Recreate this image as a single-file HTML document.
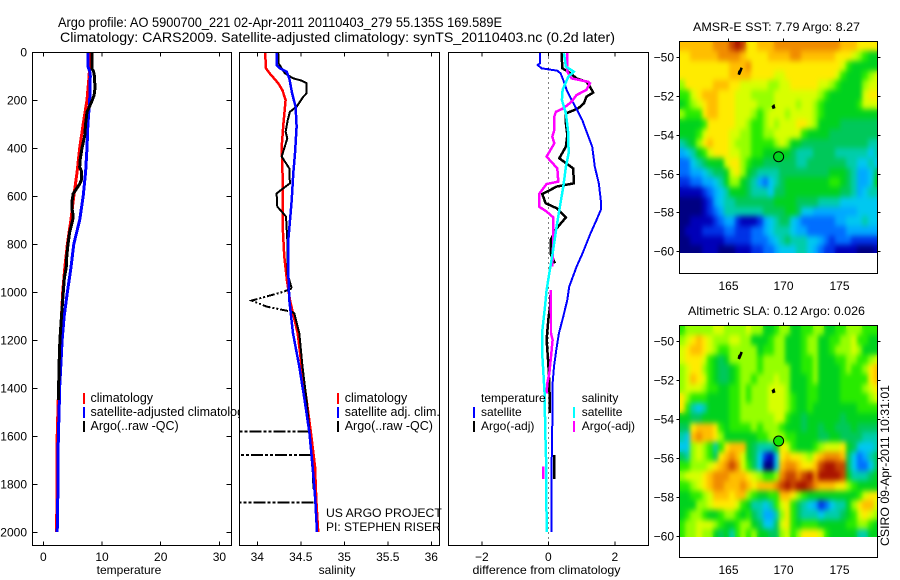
<!DOCTYPE html>
<html lang="en">
<head>
<meta charset="utf-8">
<title>Argo profile 5900700_221</title>
<style>
html,body{margin:0;padding:0;background:#fff;}
svg{display:block;}
text{font-family:"Liberation Sans",sans-serif;font-size:12px;fill:#000;}
.title{font-size:14px;}
</style>
</head>
<body>
<svg id="fig" xmlns="http://www.w3.org/2000/svg" width="900" height="580" viewBox="0 0 900 580">
  <rect x="0" y="0" width="900" height="580" fill="#fff"/>
  <text class="title" x="58" y="27" textLength="444" lengthAdjust="spacingAndGlyphs">Argo profile: AO 5900700_221 02-Apr-2011 20110403_279 55.135S 169.589E</text>
  <text class="title" x="60" y="42" textLength="555" lengthAdjust="spacingAndGlyphs">Climatology: CARS2009. Satellite-adjusted climatology: synTS_20110403.nc (0.2d later)</text>
  <clipPath id="clipSal"><rect x="239.5" y="52.5" width="200" height="493"/></clipPath>
  <clipPath id="clipTemp"><rect x="32.5" y="52.5" width="199" height="493"/></clipPath>
  <clipPath id="clipDiff"><rect x="448.5" y="52.5" width="200" height="493"/></clipPath>
  <clipPath id="clipHeatSst"><rect x="679.5" y="41.5" width="198" height="211.5"/></clipPath>
  <clipPath id="clipHeatSla"><rect x="679.5" y="325.5" width="198" height="211.5"/></clipPath>
  <filter id="heatBlur" x="-5%" y="-5%" width="110%" height="110%" color-interpolation-filters="sRGB">
    <feGaussianBlur stdDeviation="2.2 3" result="b"/>
    <feMerge><feMergeNode in="SourceGraphic"/><feMergeNode in="b"/></feMerge>
  </filter>
  <g id="panelTemp"></g>
  <g id="panelSal"></g>
  <g id="panelDiff"></g>
  <g id="mapSst"></g>
  <g id="mapSla"></g>
  <text x="129" y="574" text-anchor="middle">temperature</text>
  <text x="337" y="574" text-anchor="middle">salinity</text>
  <text x="546.5" y="574" text-anchor="middle" textLength="148" lengthAdjust="spacingAndGlyphs">difference from climatology</text>
  <text x="776.5" y="31" text-anchor="middle" textLength="167" lengthAdjust="spacingAndGlyphs">AMSR-E SST: 7.79 Argo: 8.27</text>
  <text x="776.5" y="315" text-anchor="middle" textLength="177" lengthAdjust="spacingAndGlyphs">Altimetric SLA: 0.12 Argo: 0.026</text>
  <text transform="translate(889,546) rotate(-90)" textLength="161" lengthAdjust="spacingAndGlyphs">CSIRO 09-Apr-2011 10:31:01</text>
</svg>
<script>
// ---------- axis tick labels ----------
var depthTicks = [0,200,400,600,800,1000,1200,1400,1600,1800,2000];
var tempTicks = [0,10,20,30];
var salTicks = [34,34.5,35,35.5,36];
var diffTicks = [-2,0,2];
var lonTicks = [165,170,175];
var latTicks = [-50,-52,-54,-56,-58,-60];

// ---------- temperature panel ----------
var tempClimDepth = [0,100,200,300,400,500,600,700,800,900,1000,1200,1400,1600,1800,2000];
var tempClim = [8.0,7.8,7.45,6.8,6.2,5.75,5.2,4.7,4.1,3.67,3.3,2.9,2.6,2.37,2.37,2.25];
var tempSatDepth = [0,60,80,100,200,300,400,500,600,700,800,900,1000,1100,1200,1300,1400,1500,1600,1800,2000];
var tempSat = [7.6,7.6,7.9,8.0,7.9,7.6,7.45,7.2,6.8,6.2,5.2,4.7,4.1,3.56,3.2,3.0,2.77,2.7,2.55,2.5,2.37];
var tempArgoDepth = [0,70,80,100,150,180,210,250,300,350,400,450,480,500,530,550,570,590,620,650,680,700,750,800,850,900,940,1000,1100,1200,1300,1400,1450];
var tempArgo = [8.3,8.3,8.55,8.7,8.8,8.65,8.2,7.45,7.2,7.06,6.6,6.27,6.2,6.55,6.55,6.2,5.65,5.1,4.9,4.86,5.1,5.0,4.5,4.2,4.0,3.9,3.6,3.4,3.1,2.82,2.7,2.6,2.6];

// ---------- salinity panel ----------
var salClimDepth = [0,68,90,130,160,200,300,395,505,575,714,853,950,1033,1172,1311,1450,1589,1727,1866,2000];
var salClim = [34.09,34.10,34.145,34.24,34.29,34.325,34.30,34.28,34.29,34.29,34.29,34.31,34.34,34.375,34.464,34.51,34.567,34.617,34.663,34.678,34.70];
var salSatDepth = [0,54,68,82,110,172,228,311,422,505,617,672,783,922,1033,1172,1311,1450,1589,1727,1866,2000];
var salSat = [34.222,34.222,34.26,34.337,34.368,34.40,34.44,34.452,34.433,34.414,34.395,34.383,34.356,34.356,34.368,34.41,34.483,34.544,34.60,34.636,34.667,34.686];
var salArgoDepth = [0,47,68,89,110,119,130,172,186,228,249,283,332,360,436,485,547,589,644,686,783,922,950,985,null,1082,1089,1172,1311,1450,1582,1679,1760,1820];
var salArgo = [34.24,34.245,34.28,34.318,34.414,34.51,34.567,34.567,34.53,34.452,34.375,34.35,34.325,34.345,34.28,34.368,34.375,34.222,34.23,34.33,34.345,34.345,34.368,34.395,null,34.395,34.425,34.483,34.52,34.567,34.6,34.62,34.64,34.645];
var salBadDepth = [985,999,1036,1061,1082];
var salBad = [34.395,34.30,33.935,34.107,34.395];
var salSpikeDepth = [1582,1679,1877];
var salSpikeFrom = [34.6,34.62,34.645];
var salSpikeTo = [33.0,33.0,33.0];

// ---------- difference panel ----------
var diffTSatDepth = [5,47,54,68,78,89,117,158,200,242,283,339,394,478,547,632,658,700,756,839,894,978,1033,1102,1172,1241,1311,1380,1450,1547,1727,2000];
var diffTSat = [-0.25,-0.25,-0.32,-0.2,0.27,0.37,0.45,0.55,0.7,0.87,1.02,1.17,1.32,1.4,1.52,1.59,1.58,1.45,1.27,1.03,0.85,0.63,0.57,0.45,0.32,0.24,0.17,0.13,0.13,0.12,0.1,0.09];
var diffSSatDepth = [5,61,82,103,158,200,256,339,422,478,561,644,728,839,922,992,1061,1172,1241,1311,1422,1589,1727,2000];
var diffSSat = [0.47,0.53,0.77,0.6,0.43,0.41,0.53,0.6,0.61,0.53,0.45,0.35,0.25,0.13,0.03,-0.05,-0.1,-0.19,-0.19,-0.16,-0.11,-0.09,-0.06,-0.05];
var diffSArgoDepth = [5,82,89,110,124,130,158,179,207,235,249,269,325,353,381,436,485,540,550,592,644,665,689,783,894,null,992,1089,1172,1200,1269,1339,1380,1422,null,1727,1779];
var diffSArgo = [0.57,0.57,0.6,0.7,1.2,1.25,1.15,0.85,0.7,0.45,0.23,0.18,0.18,0.12,0.18,-0.05,0.27,0.3,-0.05,-0.28,-0.28,-0.05,0.15,0.15,0.12,null,0.07,0.08,0.08,0.13,0.08,0.03,-0.03,-0.05,null,-0.15,-0.15];
var diffTArgoDepth = [5,68,82,110,124,144,169,186,214,235,256,297,346,394,443,485,547,561,592,630,651,689,735,783,840,880,null,992,1033,1061,1116,1200,1297,1380,1505,null,1680,1779];
var diffTArgo = [0.4,0.42,0.6,0.85,1.15,1.25,1.35,1.15,1.07,0.9,0.53,0.53,0.57,0.53,0.33,0.75,0.77,0.25,-0.18,-0.08,0.25,0.53,0.25,0.07,0.07,0.2,null,0.08,0.05,0.05,0,-0.05,0,0.03,0.05,null,0.17,0.17];
var zeroLineDiff = [0];

// ---------- satellite map grids (colour level per cell, 0 = coldest .. g = warmest) ----------
var sstRows = [
"dddddd eee fgf ccddd eeeeeeeeeeee ddd cccc",
"ccddd ddee eed ccccdd ddeedddddd cccb a988",
"ccccccccc ddde ccccccccccccccc cb 9 88888",
"ccccccccc dddd cccc bbcccccccc cb 9 888 9ab",
"a cccccd ddc cbbbbb aab bcccccbb a 9 8888 a bb",
"99 bc ddd cccb bbaaa ab bbb bbbb a 9 88888 8 bcc",
"89 ab cdd cccb bbbaa abbbb abb a 9 888888 9 bbb",
"a 999 cddc ccbbb a9 abbb abbb ba 9 8888888888",
"8888 9 cccc cbba 99 ababb bccb a 88887777777",
"888 9 b cccc bbaa9 9aa bbb bb9 8888777777777",
"6 78 a cdcc cbaa a999 9ab a 88 77777777777766",
"4 5 6 8 9 bcc cbba a9 9888 88 7666777766666656",
"33 5 6 78 88 bcca 9 887 777 776 6777 7777 66 55 65",
"33 44 56 77 8bc a 8 7666 67 777 7777 7888 76 44 57",
"22 33 44 56 8 aa 8 7 6 43 56 788 88888 899 87 6 44 58",
"11 11 23 45 68 887 6665 77 888 888 888 877 6 45 66",
"0000 12 45 6 67 777 777 8888 7777 6666 555 5555",
"00001 23 46 66 66667 777 88 755 44444 444 5555",
"00111 12 34 4 21 112 45 677 54 33333 344 555 655",
"011 122 223 322 233 45 66 65 443 333 333 444 444",
"001 111 112 222 233 34 56 76 665 543 233 322 222",
"000 011 100 011 122 33 45 55 665 432 211 110 001"
];
var slaRows = [
"9aaaaa bbaaaa baa889 aa8899 aa8899 aaa999",
"abcdcb aaabba a8889a a8889a a8899a ab9988",
"bcddcb a99aaa aa899a a8889a a889aa aba888",
"bcccb9 878aaa aa9aaa a88899 a88899 aa99ab",
"abcca9 87789a aa9aaa aa8899 a88889 a99acd",
"abdcb9 87789a a9aaab aa8889 a88889 9999cd",
"abbba9 98899a 9aaabb ba8889 988889 999abc",
"ca9998 88899a 9aaabb ba9889 988889 9999ab",
"c96568 88899a aaaabb ba9889 888888 889999",
"887788 88899a aaaaab b98878 888887 888888",
"77cddd c98999 9a9aaa 988878 878877 787777",
"65dedd ca8888 8899aa a99888 877887 777666",
"55aba9 69cddd 876668 cb9888 9abbbc 875556",
"76aba9 7cdedb 875215 cdccba cdeeed 753467",
"99aaab cdefeb 975005 deedcc dfggff 753357",
"abbbcd eeeddd cba99a effefg eggggf 866678",
"99abcd eeddde dcddde fgfggf edddcc a98888",
"8899ab dddcdd a98899 ddca98 888888 889bcc",
"888aab ccccb9 866569 bc9765 423566 8acddb",
"89aa98 89aa98 976446 ac9766 656667 89bcba",
"9aabbb a9889a a87557 bc9899 988888 99aa98",
"9aabaa 87869a 9a8877 ab9acc cb9888 886688"
];
var gridLonStart = [160.64];
var profileLon = [169.589];
var profileLat = [-55.135];
var aucklandLon = [166.0,166.05,166.15,166.25,166.2,166.05];
var aucklandLat = [-50.9,-50.75,-50.7,-50.55,-50.65,-50.85];
var campbellLon = [169.05,169.15,169.2,169.1];
var campbellLat = [-52.55,-52.5,-52.6,-52.62];

var palette = ['#000082','#0000b8','#0032e6','#006eff','#00aaff','#00c8f0','#00cdaa','#00c85a','#00d21e','#28eb00','#96ff00','#d7ff00','#ffeb00','#ffbe00','#f08c00','#c84600','#aa1400'];

var NS = 'http://www.w3.org/2000/svg';
function mk(parent, tag) {
  var e = document.createElementNS(NS, tag);
  parent.appendChild(e);
  return e;
}
function yOf(d) { return 52 + 0.24 * d; }

function drawLine(parent, xs, ds, xf, color, width, name, clip, dash) {
  var segs = [[]];
  for (var i = 0; i < xs.length; i++) {
    if (xs[i] === null || ds[i] === null) { segs.push([]); continue; }
    segs[segs.length - 1].push(xf(xs[i]).toFixed(1) + ',' + yOf(ds[i]).toFixed(1));
  }
  segs.forEach(function (s) {
    if (s.length < 2) return;
    var p = mk(parent, 'polyline');
    
    
    p.setAttribute('points', s.join(' '));
    p.setAttribute('fill', 'none');
    p.setAttribute('stroke', color);
    p.setAttribute('stroke-width', width);
    p.setAttribute('shape-rendering', 'crispEdges');
    p.setAttribute('clip-path', 'url(#' + clip + ')');
    if (dash) p.setAttribute('stroke-dasharray', dash);
  });
}

function drawAxes(parent, L, R, T, B, xTicks, xf, prefix) {
  var box = mk(parent, 'rect');
  
  
  box.setAttribute('x', L); box.setAttribute('y', T);
  box.setAttribute('width', R - L); box.setAttribute('height', B - T);
  box.setAttribute('fill', '#fff');
  xTicks.forEach(function (v) {
    [[T, T + 4], [B, B - 4]].forEach(function (yy) {
      var t = mk(parent, 'line');
      
      
      t.setAttribute('x1', xf(v)); t.setAttribute('x2', xf(v));
      t.setAttribute('y1', yy[0]); t.setAttribute('y2', yy[1]);
      t.setAttribute('stroke', '#000');
      t.setAttribute('shape-rendering', 'crispEdges');
    });
    var lb = mk(parent, 'text');
    
    
    lb.setAttribute('x', xf(v)); lb.setAttribute('y', 561);
    lb.setAttribute('text-anchor', 'middle');
    lb.textContent = String(v).replace('-', '\u2212');
  });
}

function drawFrame(parent, L, R, T, B, prefix) {
  var f = mk(parent, 'rect');
  
  
  f.setAttribute('x', L); f.setAttribute('y', T);
  f.setAttribute('width', R - L); f.setAttribute('height', B - T);
  f.setAttribute('fill', 'none');
  f.setAttribute('stroke', '#000');
  f.setAttribute('shape-rendering', 'crispEdges');
}

function legend(parent, barX, textX, rows, prefix, size) {
  rows.forEach(function (r) {
    if (r[0]) {
      var b = mk(parent, 'rect');
      
      
      b.setAttribute('x', barX); b.setAttribute('y', r[2] - 9);
      b.setAttribute('width', 2); b.setAttribute('height', 11);
      b.setAttribute('fill', r[0]);
    }
    var t = mk(parent, 'text');
    
    
    t.setAttribute('x', textX); t.setAttribute('y', r[2]);
    t.setAttribute('style', 'font-size:' + size + 'px');
    t.textContent = r[1];
  });
}

// --- temperature panel ---
var pT = document.getElementById('panelTemp');
function xTemp(v) { return 43.3 + 5.87 * v; }
drawAxes(pT, 32.5, 231.5, 52.5, 545.5, tempTicks, xTemp, 'temperature');
depthTicks.forEach(function (d) {
  var y = Math.round(yOf(d)) + 0.5;
  [[32.5, 37.5], [231.5, 226.5]].forEach(function (xx) {
    var t = mk(pT, 'line');
    
    
    t.setAttribute('x1', xx[0]); t.setAttribute('x2', xx[1]);
    t.setAttribute('y1', y); t.setAttribute('y2', y);
    t.setAttribute('stroke', '#000');
    t.setAttribute('shape-rendering', 'crispEdges');
  });
  var lb = mk(pT, 'text');
  
  
  lb.setAttribute('x', 27); lb.setAttribute('y', y + 4);
  lb.setAttribute('text-anchor', 'end');
  lb.textContent = d;
});
drawLine(pT, tempClim, tempClimDepth, xTemp, '#ff0000', 3, 'temperature-climatology-line', 'clipTemp');
drawLine(pT, tempSat, tempSatDepth, xTemp, '#0000ff', 3, 'temperature-satellite-line', 'clipTemp');
drawLine(pT, tempArgo, tempArgoDepth, xTemp, '#000000', 3, 'temperature-argo-line', 'clipTemp');
legend(pT, 83, 90.5, [['#f00', 'climatology', 402], ['#00f', 'satellite-adjusted climatology', 416], ['#000', 'Argo(..raw -QC)', 430]], 'temperature', 12.5);
drawFrame(pT, 32.5, 231.5, 52.5, 545.5, 'temperature');

// --- salinity panel ---
var pS = document.getElementById('panelSal');
function xSal(v) { return 257.3 + 87 * (v - 34); }
drawAxes(pS, 239.5, 439.5, 52.5, 545.5, salTicks, xSal, 'salinity');
drawLine(pS, salClim, salClimDepth, xSal, '#ff0000', 2.5, 'salinity-climatology-line', 'clipSal');
drawLine(pS, salArgo, salArgoDepth, xSal, '#000000', 2, 'salinity-argo-line', 'clipSal');
drawLine(pS, salBad, salBadDepth, xSal, '#000000', 2, 'salinity-argo-spike-line', 'clipSal', '8 2 2 2 2 2');
salSpikeDepth.forEach(function (d, i) {
  drawLine(pS, [salSpikeFrom[i], salSpikeTo[i]], [d, d], xSal, '#000000', 2, 'salinity-argo-bad-value-line', 'clipSal', '12 2 3 2 3 2');
});
drawLine(pS, salSat, salSatDepth, xSal, '#0000ff', 2.5, 'salinity-satellite-line', 'clipSal');
legend(pS, 337, 344.7, [['#f00', 'climatology', 402], ['#00f', 'satellite adj. clim.', 416], ['#000', 'Argo(..raw -QC)', 430]], 'salinity', 12.5);
drawFrame(pS, 239.5, 439.5, 52.5, 545.5, 'salinity');
var note1 = mk(pS, 'text');


note1.setAttribute('x', 326); note1.setAttribute('y', 517);
note1.setAttribute('style', 'font-size:12.2px');
note1.textContent = 'US ARGO PROJECT';
var note2 = mk(pS, 'text');


note2.setAttribute('x', 326); note2.setAttribute('y', 531);
note2.textContent = 'PI: STEPHEN RISER';

// --- difference panel ---
var pD = document.getElementById('panelDiff');
function xDiff(v) { return 548.3 + 33.25 * v; }
drawAxes(pD, 448.5, 648.5, 52.5, 545.5, diffTicks, xDiff, 'difference');
var zl = mk(pD, 'line');


zl.setAttribute('x1', xDiff(zeroLineDiff[0])); zl.setAttribute('x2', xDiff(zeroLineDiff[0]));
zl.setAttribute('y1', 52.5); zl.setAttribute('y2', 545.5);
zl.setAttribute('stroke', '#000');
zl.setAttribute('stroke-dasharray', '1 4');
zl.setAttribute('shape-rendering', 'crispEdges');
drawLine(pD, diffTArgo, diffTArgoDepth, xDiff, '#000000', 2.5, 'difference-temperature-argo-line', 'clipDiff');
drawLine(pD, diffTSat, diffTSatDepth, xDiff, '#0000ff', 2, 'difference-temperature-satellite-line', 'clipDiff');
drawLine(pD, diffSArgo, diffSArgoDepth, xDiff, '#ff00ff', 2.5, 'difference-salinity-argo-line', 'clipDiff');
drawLine(pD, diffSSat, diffSSatDepth, xDiff, '#00ffff', 2.5, 'difference-salinity-satellite-line', 'clipDiff');
legend(pD, 473, 481, [[null, 'temperature', 402], ['#00f', 'satellite', 416], ['#000', 'Argo(-adj)', 430]], 'difference-temperature', 12);
legend(pD, 573, 581.7, [[null, 'salinity', 402], ['#0ff', 'satellite', 416], ['#f0f', 'Argo(-adj)', 430]], 'difference-salinity', 12);
drawFrame(pD, 448.5, 648.5, 52.5, 545.5, 'difference');

// --- maps ---
function drawMap(id, prefix, rows, top, bottom, lat50, clipId) {
  var g = document.getElementById(id);
  var L = 679.5, R = 877.5;
  var kx = 11.1, ky = 19.42;
  function mx(lon) { return 727.7 + kx * (lon - 165); }
  function my(lat) { return lat50 + ky * (-50 - lat); }
  var bg = mk(g, 'rect');
  
  
  bg.setAttribute('x', L); bg.setAttribute('y', top);
  bg.setAttribute('width', R - L); bg.setAttribute('height', bottom - top);
  bg.setAttribute('fill', '#fff');
  var clipG = mk(g, 'g');
  
  
  clipG.setAttribute('clip-path', 'url(#' + clipId + ')');
  var heat = mk(clipG, 'g');
  
  
  heat.setAttribute('filter', 'url(#heatBlur)');
  rows.forEach(function (row, r) {
    var chars = row.replace(/ /g, '');
    for (var c = 0; c < chars.length; c++) {
      var lon0 = gridLonStart[0] + 0.5 * c;
      var lat0 = -50 - (top - lat50) / ky - 0.5 * r;
      var cell = mk(heat, 'rect');
      
      
      var x0 = Math.round(mx(lon0)), x1 = Math.round(mx(lon0 + 0.5));
      var y0 = Math.round(my(lat0)), y1 = Math.round(my(lat0 - 0.5));
      cell.setAttribute('x', x0);
      cell.setAttribute('y', y0);
      cell.setAttribute('width', Math.max(x1 - x0, 1));
      cell.setAttribute('height', y1 - y0);
      cell.setAttribute('fill', palette[parseInt(chars.charAt(c), 17)]);
      cell.setAttribute('shape-rendering', 'crispEdges');
    }
  });
  [[aucklandLon, aucklandLat, 'auckland-island', 2.5], [campbellLon, campbellLat, 'campbell-island', 2]].forEach(function (isl) {
    var pts = isl[0].map(function (v, i) { return mx(v).toFixed(1) + ',' + my(isl[1][i]).toFixed(1); }).join(' ');
    var p = mk(g, 'polygon');
    
    
    p.setAttribute('points', pts);
    p.setAttribute('fill', '#000');
    p.setAttribute('stroke', '#000');
    p.setAttribute('stroke-width', isl[3]);
  });
  var dot = mk(g, 'circle');
  
  
  dot.setAttribute('cx', mx(profileLon[0]));
  dot.setAttribute('cy', my(profileLat[0]));
  dot.setAttribute('r', 5);
  dot.setAttribute('fill', prefix === 'sla-map' ? '#14e600' : '#00d21e');
  dot.setAttribute('stroke', '#000');
  drawFrame(g, L, R, top, bottom, prefix);
  latTicks.forEach(function (lat) {
    var y = Math.round(my(lat)) + 0.5;
    [[L - 3, L], [R, R + 3]].forEach(function (xx) {
      var t = mk(g, 'line');
      
      
      t.setAttribute('x1', xx[0]); t.setAttribute('x2', xx[1]);
      t.setAttribute('y1', y); t.setAttribute('y2', y);
      t.setAttribute('stroke', '#000');
      t.setAttribute('shape-rendering', 'crispEdges');
    });
    var lb = mk(g, 'text');
    
    
    lb.setAttribute('x', 674); lb.setAttribute('y', y + 4);
    lb.setAttribute('text-anchor', 'end');
    lb.textContent = String(lat).replace('-', '\u2212');
  });
  lonTicks.forEach(function (lon) {
    var x = Math.round(mx(lon)) + 0.5;
    var t = mk(g, 'line');
    
    
    t.setAttribute('x1', x); t.setAttribute('x2', x);
    t.setAttribute('y1', top - 3); t.setAttribute('y2', top);
    t.setAttribute('stroke', '#000');
    t.setAttribute('shape-rendering', 'crispEdges');
    var lb = mk(g, 'text');
    
    
    lb.setAttribute('x', x); lb.setAttribute('y', bottom + 16.5);
    lb.setAttribute('text-anchor', 'middle');
    lb.textContent = lon;
  });
}
drawMap('mapSst', 'sst-map', sstRows, 41.5, 273.5, 57, 'clipHeatSst');
drawMap('mapSla', 'sla-map', slaRows, 325.5, 557.5, 341.3, 'clipHeatSla');
</script>
</body>
</html>
